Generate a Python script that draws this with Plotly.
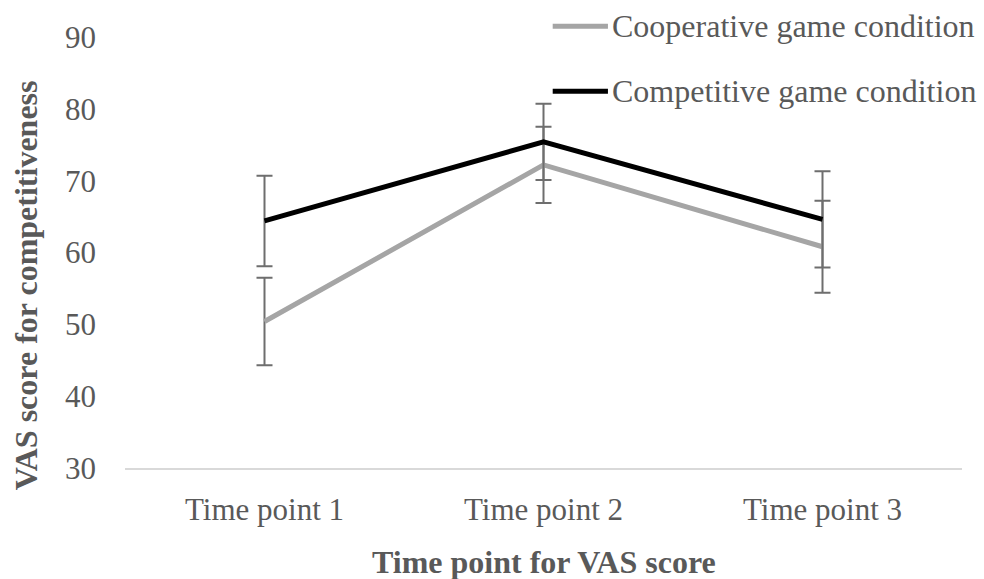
import plotly.graph_objects as go

# Mean VAS competitiveness scores with error margins per time point
time_points = ["Time point 1", "Time point 2", "Time point 3"]
coop_mean = [50.4, 72.2, 60.8]
coop_err = [6.1, 5.3, 6.4]
comp_mean = [64.4, 75.4, 64.6]
comp_err = [6.3, 5.3, 6.7]
y_ticks = [30, 40, 50, 60, 70, 80, 90]

series_names = ["Cooperative game condition", "Competitive game condition"]
series_colors = ["#A5A5A5", "#000000"]

FONT = "Liberation Serif, Times New Roman, serif"
TEXT = "#595959"
ERR = "#6E6E6E"

fig = go.Figure()
for name, mean, err, color in [
    (series_names[0], coop_mean, coop_err, series_colors[0]),
    (series_names[1], comp_mean, comp_err, series_colors[1]),
]:
    fig.add_trace(go.Scatter(
        x=time_points, y=mean, name=name, mode="lines",
        line=dict(color=color, width=5),
        error_y=dict(type="data", array=err, visible=True,
                     color=ERR, thickness=2, width=8),
        showlegend=False,
    ))

fig.update_layout(
    width=984, height=579,
    margin=dict(l=125, r=22, t=37, b=111),
    paper_bgcolor="white", plot_bgcolor="white",
    font=dict(family=FONT, size=31, color=TEXT),
    xaxis=dict(
        type="category", range=[-0.5, 2.5],
        showline=True, linecolor="#D9D9D9", linewidth=1.5,
        showgrid=False, zeroline=False, ticks="",
        ticklabelstandoff=13,
        tickfont=dict(family=FONT, size=31, color=TEXT),
    ),
    yaxis=dict(
        range=[30, 90], tickvals=y_ticks,
        showgrid=False, zeroline=False, showline=False, ticks="",
        ticklabelstandoff=28,
        tickfont=dict(family=FONT, size=31, color=TEXT),
    ),
)

# Axis titles
fig.add_annotation(
    text="<b>Time point for VAS score</b>", xref="paper", yref="paper",
    x=0.5, y=-0.217, xanchor="center", yanchor="middle", showarrow=False,
    font=dict(family=FONT, size=32, color=TEXT),
)
fig.add_annotation(
    text="<b>VAS score for competitiveness</b>", xref="paper", yref="paper",
    x=-0.119, y=0.425, xanchor="center", yanchor="middle", showarrow=False,
    textangle=-90, font=dict(family=FONT, size=32, color=TEXT),
)

# Legend: line swatch followed by label, top right
legend_rows_y = [1.025, 0.874]
for name, color, ly in zip(series_names, series_colors, legend_rows_y):
    fig.add_shape(type="line", xref="paper", yref="paper",
                  x0=0.511, x1=0.577, y0=ly, y1=ly,
                  line=dict(color=color, width=5))
    fig.add_annotation(
        text=name, xref="paper", yref="paper", x=0.580, y=ly,
        xanchor="left", yanchor="middle", showarrow=False,
        font=dict(family=FONT, size=32, color=TEXT),
    )

fig.write_html("out.html")
